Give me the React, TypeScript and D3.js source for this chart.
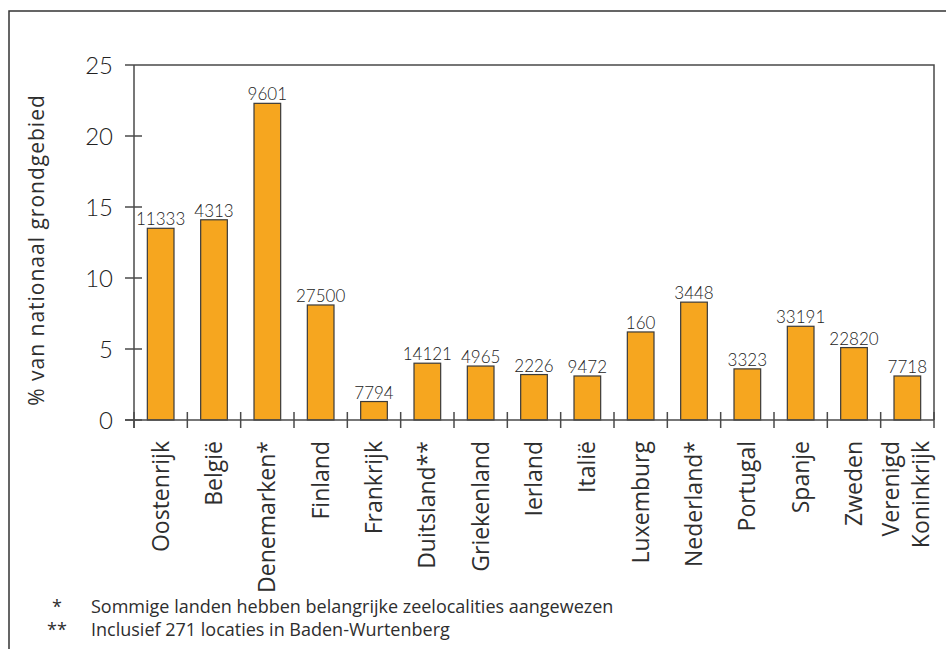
import React from "react";
import * as d3 from "d3";

// Share of national land area designated per country, with the site counts on top of each bar
const countries = [
  "Oostenrijk", "België", "Denemarken*", "Finland", "Frankrijk", "Duitsland**",
  "Griekenland", "Ierland", "Italië", "Luxemburg", "Nederland*", "Portugal",
  "Spanje", "Zweden", "Verenigd Koninkrijk",
];
const percentages = [13.5, 14.1, 22.3, 8.1, 1.3, 4.0, 3.8, 3.2, 3.1, 6.2, 8.3, 3.6, 6.6, 5.1, 3.1];
const siteCounts = [11333, 4313, 9601, 27500, 7794, 14121, 4965, 2226, 9472, 160, 3448, 3323, 33191, 22820, 7718];
const yTicks = [0, 5, 10, 15, 20, 25];
const footnotes = [
  { mark: "*", text: "Sommige landen hebben belangrijke zeelocalities aangewezen" },
  { mark: "**", text: "Inclusief 271 locaties in Baden-Wurtenberg" },
];
const yTitle = "% van nationaal grondgebied";

const W = 946;
const H = 649;
const plot = { left: 134, right: 934, top: 65, bottom: 420 };
const FONT = "'Open Sans', Lato, sans-serif";
const NUM_FONT = "Lato, 'Open Sans', sans-serif";
const TEXT = "#2e2e2e";
const AXIS = "#4a4a4a";
const BAR = "#F6A61F";

export default function App() {
  const x = d3
    .scaleBand<string>()
    .domain(countries)
    .range([plot.left, plot.right])
    .paddingInner(0.5)
    .paddingOuter(0.25);
  const y = d3.scaleLinear().domain([0, 25]).range([plot.bottom, plot.top]);
  const step = x.step();
  const boundaries = d3.range(countries.length + 1).map((i) => plot.left + i * step);

  return (
    <svg
      width={W}
      height={H}
      style={{ position: "absolute", left: 0, top: 0, background: "#fff" }}
      fontFamily={FONT}
    >
      <rect x={0} y={0} width={W} height={H} fill="#fff" />
      {/* outer frame */}
      <rect x={9} y={11} width={W + 50} height={H + 50} fill="none" stroke="#333" strokeWidth={1.5} />

      {/* plot frame: top and right edges */}
      <path
        d={`M${plot.left},${plot.top}H${plot.right}V${plot.bottom}`}
        fill="none"
        stroke={AXIS}
        strokeWidth={1.5}
      />

      {/* bars */}
      {countries.map((c, i) => (
        <rect
          key={c}
          x={x(c)}
          y={y(percentages[i])}
          width={x.bandwidth()}
          height={y(0) - y(percentages[i])}
          fill={BAR}
          stroke="#3a3a3a"
          strokeWidth={1.2}
        />
      ))}

      {/* site counts above bars */}
      {countries.map((c, i) => (
        <text
          key={c}
          x={(x(c) as number) + x.bandwidth() / 2}
          y={y(percentages[i]) - 3}
          textAnchor="middle"
          fontFamily={NUM_FONT}
          fontSize={17}
          fontWeight={300}
          fill="#222"
        >
          {siteCounts[i]}
        </text>
      ))}

      {/* y axis */}
      <line x1={plot.left} x2={plot.left} y1={plot.top} y2={plot.bottom + 8} stroke={AXIS} strokeWidth={1.5} />
      {yTicks.map((t) => (
        <g key={t}>
          <line x1={plot.left - 9} x2={t === 25 ? plot.left : plot.left + 8} y1={y(t)} y2={y(t)} stroke={AXIS} strokeWidth={1.5} />
          <text x={113} y={y(t)} dy="0.36em" textAnchor="end" fontFamily={NUM_FONT} fontSize={24} fontWeight={300} fill="#222">
            {t}
          </text>
        </g>
      ))}

      {/* x axis */}
      <line x1={plot.left - 9} x2={plot.right} y1={plot.bottom} y2={plot.bottom} stroke={AXIS} strokeWidth={1.5} />
      {boundaries.map((bx, i) => (
        <line key={i} x1={bx} x2={bx} y1={plot.bottom - 8} y2={plot.bottom + 8} stroke={AXIS} strokeWidth={1.5} />
      ))}

      {/* category labels */}
      {countries.map((c) => {
        const cx = (x(c) as number) + x.bandwidth() / 2;
        const lines = c === "Verenigd Koninkrijk" ? ["Verenigd", "Koninkrijk"] : [c];
        const offsets = lines.length === 2 ? [-16, 14] : [0];
        return lines.map((ln, j) => (
          <text
            key={c + j}
            transform={`translate(${cx + offsets[j]},441) rotate(-90)`}
            dy="0.35em"
            textAnchor="end"
            fontSize={23}
            fill={TEXT}
          >
            {ln}
          </text>
        ));
      })}

      {/* y axis title */}
      <text
        transform="translate(44,250) rotate(-90)"
        textAnchor="middle"
        fontSize={21}
        letterSpacing={1}
        fill={TEXT}
      >
        {yTitle}
      </text>

      {/* footnotes */}
      {footnotes.map((f, i) => (
        <g key={i}>
          <text x={57} y={613 + i * 23} textAnchor="middle" fontSize={18} fill={TEXT}>
            {f.mark}
          </text>
          <text x={91} y={613 + i * 23} fontSize={18} fill={TEXT}>
            {f.text}
          </text>
        </g>
      ))}
    </svg>
  );
}
